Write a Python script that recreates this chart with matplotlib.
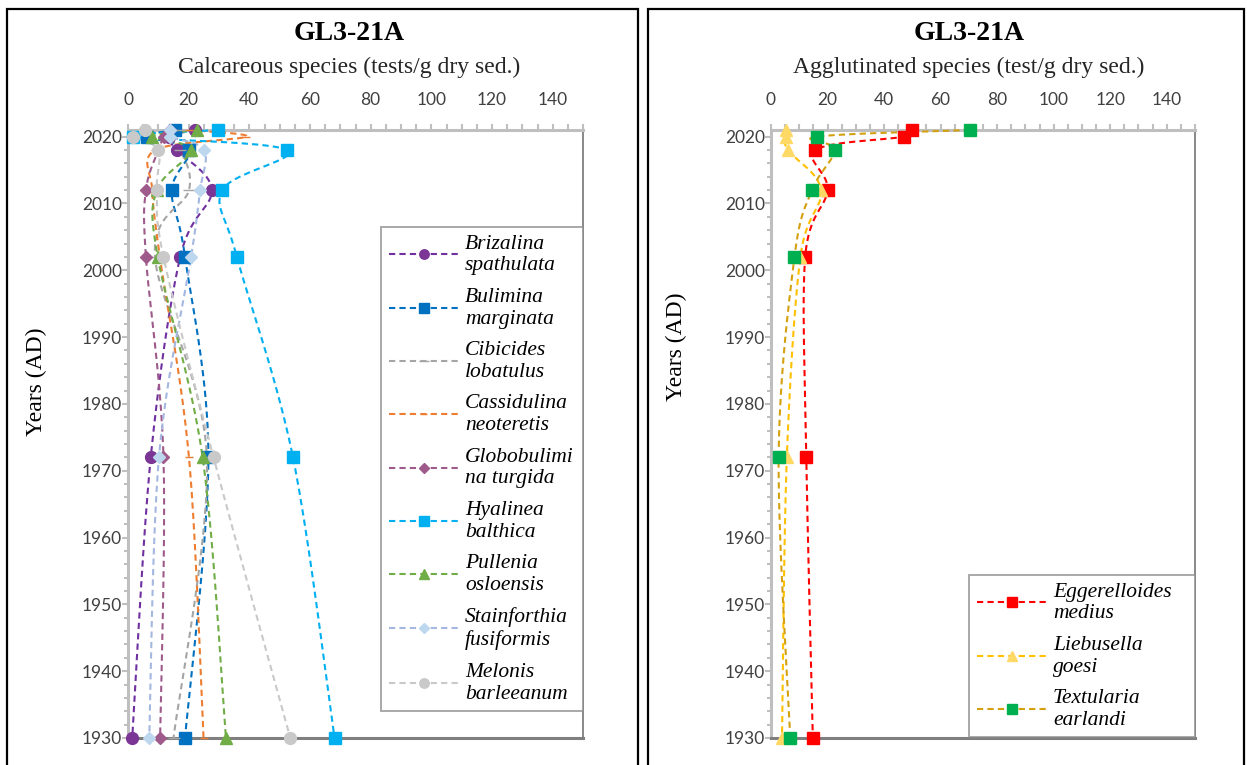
import numpy as np
import matplotlib
matplotlib.use("Agg")
import matplotlib.pyplot as plt
from matplotlib.lines import Line2D
from matplotlib.patches import Rectangle
from matplotlib.ticker import MultipleLocator

# sample ages (AD), top of core first
years = [2021, 2020, 2018, 2012, 2002, 1972, 1930]

# calcareous species, tests/g dry sed.
brizalina = [22.0, 13.5, 16.1, 27.6, 17.2, 7.5, 1.4]
bulimina = [15.5, 6.2, 20.0, 14.4, 18.8, 26.5, 18.8]
cibicides = [17.0, 12.0, 17.2, 20.1, 8.9, 26.0, 15.0]
cassidulina = [20.0, 39.0, 9.0, 8.0, 10.5, 20.1, 24.9]
globobulimina = [14.0, 12.0, 10.0, 5.9, 5.9, 11.7, 10.6]
hyalinea = [29.8, 1.5, 52.4, 31.1, 35.9, 54.4, 68.1]
pullenia = [22.7, 8.0, 20.8, 9.5, 9.8, 24.6, 32.3]
stainforthia = [14.0, 14.0, 25.1, 23.8, 20.8, 10.2, 7.0]
melonis = [5.6, 1.8, 10.0, 9.5, 11.7, 28.2, 53.5]

# agglutinated species, tests/g dry sed.
eggerelloides = [49.8, 46.9, 15.7, 20.0, 12.1, 12.5, 14.8]
liebusella = [5.4, 5.4, 6.0, 17.7, 10.4, 5.6, 3.9]
textularia = [70.4, 16.2, 22.7, 14.5, 8.3, 2.7, 6.8]

SERIF = "Liberation Serif"
TICKFONT = "Lato"

W, H = 1247, 765
fig = plt.figure(figsize=(W / 100, H / 100), dpi=100)


def box(x0, y0, x1, y1):
    # pixel box (top-left origin) -> figure fraction rect
    return [x0 / W, 1 - y1 / H, (x1 - x0) / W, (y1 - y0) / H]


def smooth(ax, x, y, n=24):
    # Bezier smoothing through the points, done in display space
    pts = ax.transData.transform(np.column_stack([x, y]))
    out = [pts[0]]
    t = np.linspace(0, 1, n)[1:, None]
    for i in range(len(pts) - 1):
        p0 = pts[i - 1] if i > 0 else pts[i]
        p1, p2 = pts[i], pts[i + 1]
        p3 = pts[i + 2] if i + 2 < len(pts) else pts[i + 1]
        c1 = p1 + (p2 - p0) / 6.0
        c2 = p2 - (p3 - p1) / 6.0
        seg = (1 - t) ** 3 * p1 + 3 * (1 - t) ** 2 * t * c1 + 3 * (1 - t) * t ** 2 * c2 + t ** 3 * p2
        out.extend(seg)
    xy = ax.transData.inverted().transform(np.array(out))
    return xy[:, 0], xy[:, 1]


def setup_axes(ax):
    ax.set_xlim(0, 150)
    ax.set_ylim(1930, 2021)
    ax.xaxis.tick_top()
    ax.xaxis.set_minor_locator(MultipleLocator(5))
    ax.yaxis.set_major_locator(MultipleLocator(10))
    ax.yaxis.set_minor_locator(MultipleLocator(2))
    ax.set_xticks(np.arange(0, 141, 20))
    for s in ("left", "top"):
        ax.spines[s].set_color("#BFBFBF")
        ax.spines[s].set_linewidth(2.2)
    ax.spines["bottom"].set_color("#7F7F7F")
    ax.spines["bottom"].set_linewidth(2.2)
    ax.spines["right"].set_color("#7F7F7F")
    ax.spines["right"].set_linewidth(1.3)
    ax.tick_params(which="both", color="#BFBFBF", width=1.5, direction="out")
    ax.tick_params(axis="x", which="both", length=4, pad=12)
    ax.tick_params(axis="y", which="major", length=4, pad=0.5)
    ax.tick_params(axis="y", which="minor", length=3)
    ax.tick_params(labelsize=12.5, labelcolor="#404040")
    for lab in ax.get_xticklabels() + ax.get_yticklabels():
        lab.set_family(TICKFONT)


def draw(ax, vals, line_c, marker, mfc, ms):
    xs, ys = smooth(ax, vals, years)
    ax.plot(xs, ys, color=line_c, lw=1.5, ls=(0, (3, 2)), clip_on=False, zorder=3)
    ax.plot(vals, years, ls="none", marker=marker, ms=ms, mfc=mfc, mec=mfc,
            clip_on=False, zorder=4)
    return Line2D([], [], color=line_c, lw=1.5, ls=(0, (3, 2)), marker=marker,
                  ms=ms * 0.8, mfc=mfc, mec=mfc)


def add_legend(handles, labels, x0, y0, x1):
    leg = fig.legend(handles, labels, loc="upper left", mode="expand",
                     bbox_to_anchor=(x0 / W, 1 - y0 / H, (x1 - x0) / W, 0),
                     borderaxespad=0,
                     prop={"family": SERIF, "style": "italic", "size": 15.5},
                     handlelength=3.3, handletextpad=0.25, labelspacing=0.58,
                     borderpad=0.35, frameon=True, fancybox=False, numpoints=1)
    leg.get_frame().set_edgecolor("#8C8C8C")
    leg.get_frame().set_linewidth(1.3)
    return leg


# ---- calcareous panel ----
ax1 = fig.add_axes(box(128, 130, 583, 738))
setup_axes(ax1)

calc = [
    (brizalina, "#7030A0", "o", "#7A3595", 8.5, "Brizalina\nspathulata"),
    (bulimina, "#0070C0", "s", "#0070C0", 8.5, "Bulimina\nmarginata"),
    (cibicides, "#A5A5A5", "_", "#A5A5A5", 9, "Cibicides\nlobatulus"),
    (cassidulina, "#ED7D31", "_", "#ED7D31", 6, "Cassidulina\nneoteretis"),
    (globobulimina, "#9E5A8A", "D", "#9E5A8A", 6.5, "Globobulimi\nna turgida"),
    (hyalinea, "#00B0F0", "s", "#00B0F0", 8.5, "Hyalinea\nbalthica"),
    (pullenia, "#70AD47", "^", "#70AD47", 9, "Pullenia\nosloensis"),
    (stainforthia, "#A4B7E0", "D", "#BDD7EE", 6.5, "Stainforthia\nfusiformis"),
    (melonis, "#C9C9C9", "o", "#C9C9C9", 8.5, "Melonis\nbarleeanum"),
]
handles, labels = [], []
for vals, lc, mk, mf, ms, name in calc:
    handles.append(draw(ax1, vals, lc, mk, mf, ms))
    labels.append(name)
add_legend(handles, labels, 381, 227, 583)

# ---- agglutinated panel ----
ax2 = fig.add_axes(box(771, 130, 1195, 738))
setup_axes(ax2)

agg = [
    (eggerelloides, "#FF0000", "s", "#FF0000", 9, "Eggerelloides\nmedius"),
    (liebusella, "#FFC000", "^", "#FFD966", 9, "Liebusella\ngoesi"),
    (textularia, "#D4A010", "s", "#00B050", 9, "Textularia\nearlandi"),
]
handles, labels = [], []
for vals, lc, mk, mf, ms, name in agg:
    handles.append(draw(ax2, vals, lc, mk, mf, ms))
    labels.append(name)
add_legend(handles, labels, 969, 575, 1195)

# ---- titles and axis names ----
for cx, sub in [(349, "Calcareous species (tests/g dry sed.)"),
                (969, "Agglutinated species (test/g dry sed.)")]:
    fig.text(cx / W, 1 - 33 / H, "GL3-21A", family=SERIF, weight="bold",
             size=20, ha="center", va="center")
    fig.text(cx / W, 1 - 67 / H, sub, family=SERIF, size=17,
             ha="center", va="center", color="#262626")

fig.text(36 / W, 1 - 382 / H, "Years (AD)", family=SERIF, size=17,
         rotation=90, ha="center", va="center")
fig.text(676 / W, 1 - 347 / H, "Years (AD)", family=SERIF, size=17,
         rotation=90, ha="center", va="center")

# panel frames
for x0, x1 in [(7, 638), (648, 1244)]:
    fig.patches.append(Rectangle((x0 / W, -0.05), (x1 - x0) / W, 1.05 - 9 / H,
                                 transform=fig.transFigure, fill=False,
                                 edgecolor="black", lw=1.6))

fig.savefig("out.png", dpi=100)
